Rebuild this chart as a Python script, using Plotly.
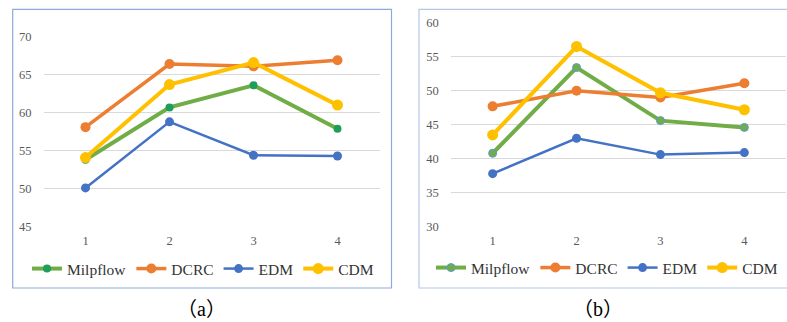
import plotly.graph_objects as go

W, H = 787, 322

categories = ["1", "2", "3", "4"]
series_names = ["Milpflow", "DCRC", "EDM", "CDM"]

# panel (a)
a_milpflow = [53.8, 60.7, 63.6, 57.9]
a_dcrc = [58.1, 66.4, 66.1, 66.9]
a_edm = [50.1, 58.8, 54.4, 54.3]
a_cdm = [54.1, 63.7, 66.6, 61.0]

# panel (b)
b_milpflow = [40.8, 53.4, 45.6, 44.6]
b_dcrc = [47.7, 50.0, 49.0, 51.1]
b_edm = [37.8, 43.0, 40.6, 40.9]
b_cdm = [43.5, 56.5, 49.7, 47.2]

a_yticks = [45, 50, 55, 60, 65, 70]
b_yticks = [30, 35, 40, 45, 50, 55, 60]

line_colors = ["#70AD47", "#ED7D31", "#4472C4", "#FFC000"]
line_widths = [4, 3.5, 2.5, 4]
marker_sizes = [8, 10, 9, 11]
a_marker_fill = ["#1E9E5A", "#ED7D31", "#4472C4", "#FFC000"]
b_marker_fill = ["#70AD47", "#ED7D31", "#4472C4", "#FFC000"]
b_marker_edge = ["#5B9BD5", "#ED7D31", "#4472C4", "#FFC000"]

fig = go.Figure()

serif = "Liberation Serif"

a_data = [a_milpflow, a_dcrc, a_edm, a_cdm]
b_data = [b_milpflow, b_dcrc, b_edm, b_cdm]

for i, name in enumerate(series_names):
    fig.add_trace(go.Scatter(
        x=categories, y=a_data[i], name=name, mode="lines+markers",
        line=dict(color=line_colors[i], width=line_widths[i]),
        marker=dict(size=marker_sizes[i], color=a_marker_fill[i],
                    line=dict(width=0)),
        xaxis="x", yaxis="y", legend="legend",
    ))
for i, name in enumerate(series_names):
    fig.add_trace(go.Scatter(
        x=categories, y=b_data[i], name=name, mode="lines+markers",
        line=dict(color=line_colors[i], width=line_widths[i]),
        marker=dict(size=marker_sizes[i], color=b_marker_fill[i],
                    line=dict(width=1 if i == 0 else 0, color=b_marker_edge[i])),
        xaxis="x2", yaxis="y2", legend="legend2",
    ))

tickfont = dict(family=serif, size=12.5, color="#595959")
common_x = dict(type="category", range=[-0.5, 3.5], showgrid=False, zeroline=False,
                showline=False, ticks="", tickfont=tickfont, fixedrange=True,
                ticklabelstandoff=5)
common_y = dict(showgrid=True, gridcolor="#D9D9D9", gridwidth=1, zeroline=False,
                showline=False, ticks="", tickfont=tickfont, fixedrange=True,
                ticklabelstandoff=11)

legfont = dict(family=serif, size=15.5, color="#333333")

cap_a = "（<span style='font-family:Liberation Serif'>a</span>）"
cap_b = "（<span style='font-family:Liberation Serif'>b</span>）"

fig.update_layout(
    width=W, height=H,
    margin=dict(l=0, r=0, t=0, b=0, autoexpand=False),
    paper_bgcolor="white", plot_bgcolor="white",
    xaxis=dict(domain=[43.5 / W, 379.5 / W], anchor="y", **common_x),
    yaxis=dict(domain=[(H - 226.7) / H, (H - 36.7) / H], anchor="x",
               range=[45, 70], tickvals=a_yticks, **common_y),
    xaxis2=dict(domain=[450.7 / W, 786.3 / W], anchor="y2", **common_x),
    yaxis2=dict(domain=[(H - 226.7) / H, (H - 22.7) / H], anchor="x2",
                range=[30, 60], tickvals=b_yticks, **common_y),
    legend=dict(orientation="h", x=27 / W, y=(H - 269) / H, xanchor="left", yanchor="middle",
                font=legfont, bgcolor="rgba(0,0,0,0)",
                itemclick=False, itemdoubleclick=False),
    legend2=dict(orientation="h", x=431 / W, y=(H - 268) / H, xanchor="left", yanchor="middle",
                 font=legfont, bgcolor="rgba(0,0,0,0)",
                 itemclick=False, itemdoubleclick=False),
    showlegend=True,
    shapes=[
        dict(type="rect", xref="paper", yref="paper",
             x0=12.7 / W, x1=391.5 / W, y0=(H - 288) / H, y1=(H - 9.3) / H,
             line=dict(color="#8EAADB", width=1.2), fillcolor="rgba(0,0,0,0)", layer="below"),
        dict(type="rect", xref="paper", yref="paper",
             x0=419 / W, x1=1.02, y0=(H - 288) / H, y1=(H - 9.3) / H,
             line=dict(color="#B4C7E7", width=1.2), fillcolor="rgba(0,0,0,0)", layer="below"),
    ],
    annotations=[
        dict(text=cap_a, xref="paper", yref="paper", x=201 / W, y=(H - 307) / H,
             showarrow=False, xanchor="center", yanchor="middle",
             font=dict(family="Noto Sans CJK SC", size=20, color="#000000")),
        dict(text=cap_b, xref="paper", yref="paper", x=598 / W, y=(H - 307) / H,
             showarrow=False, xanchor="center", yanchor="middle",
             font=dict(family="Noto Sans CJK SC", size=20, color="#000000")),
    ],
)

fig.write_html("out.html", config={"displayModeBar": False},
               post_script="document.body.style.margin='0';document.body.style.overflow='hidden';")
